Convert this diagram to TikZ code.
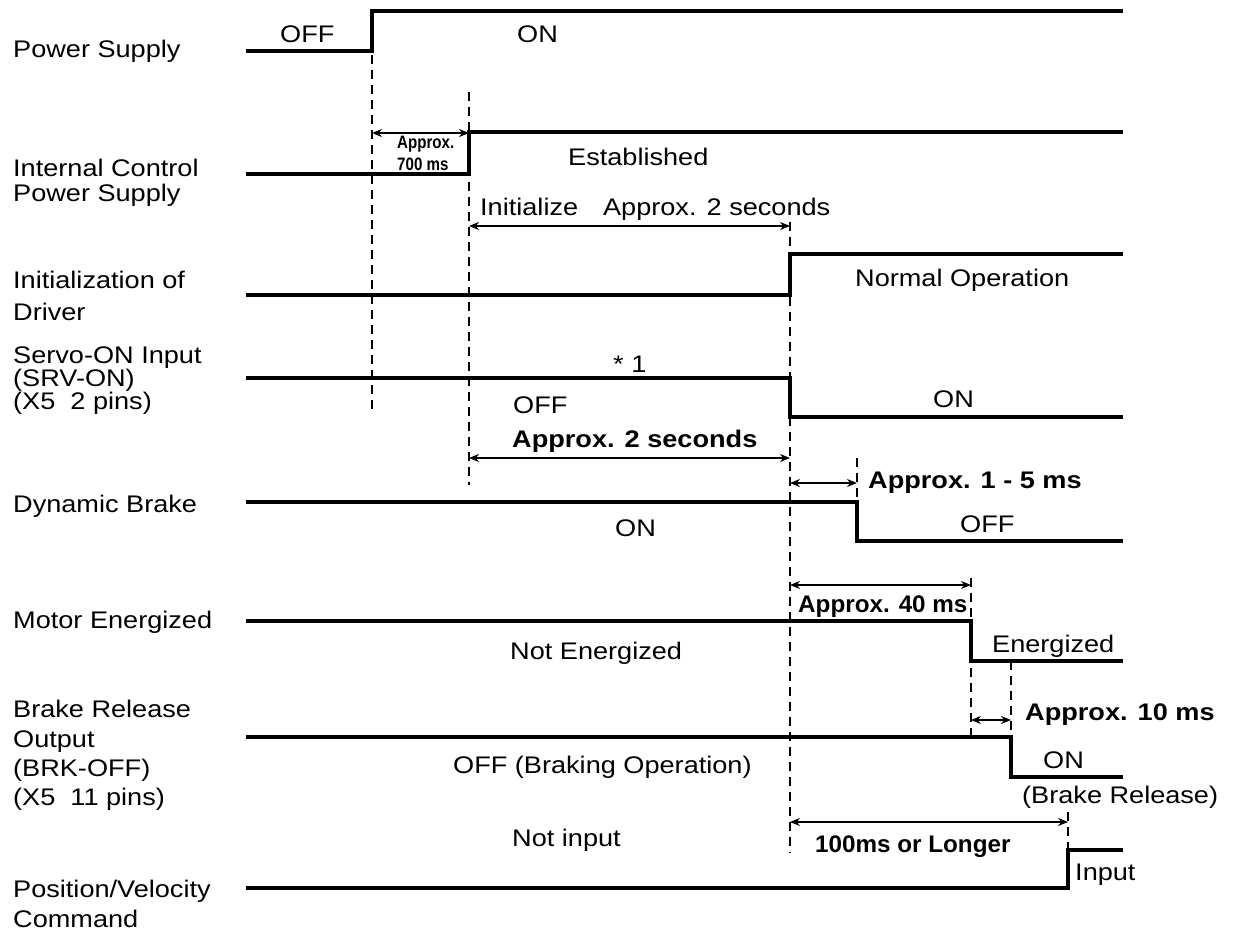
\documentclass[tikz,border=0pt]{standalone}
\usepackage{fontspec}
\setmainfont{Liberation Sans}[FakeStretch=1.13]
\newfontfamily\narrowfont{Liberation Sans}[FakeStretch=0.84]
\newfontfamily\condfont{Liberation Sans}[FakeStretch=1.01]
\usetikzlibrary{arrows.meta, positioning}

\begin{document}
\begin{tikzpicture}[
  x=1pt, y=-1pt,
  wave/.style={line width=3.6pt, line join=miter},
  guide/.style={line width=1.3pt, dash pattern=on 9pt off 6pt},
  span/.style={{Stealth[length=10pt,width=8pt]}-{Stealth[length=10pt,width=8pt]}, line width=1.3pt},
  txt/.style={anchor=base west, inner sep=0pt, font=\fontsize{24}{26}\selectfont},
  bold/.style={txt, font=\fontsize{24}{26}\selectfont\bfseries},
  cond/.style={txt, font=\condfont\fontsize{24}{26}\selectfont\bfseries},
  small/.style={txt, font=\narrowfont\fontsize{18}{19}\selectfont\bfseries}
]
\useasboundingbox (0,0) rectangle (1234,934);

% signal names
\node[txt] (nps)  at (13,58)  {Power Supply};
\node[txt] (nic1) at (13,176) {Internal Control};
\node[txt] (nic2) at (13,201) {Power Supply};
\node[txt] (ndr1) at (13,288) {Initialization of};
\node[txt] (ndr2) at (13,320) {Driver};
\node[txt] (nsv1) at (13,363) {Servo-ON Input};
\node[txt] (nsv2) at (13,386) {(SRV-ON)};
\node[txt] (nsv3) at (13,409) {(X5~~2 pins)};
\node[txt] (ndb)  at (13,512) {Dynamic Brake};
\node[txt] (nme)  at (13,628) {Motor Energized};
\node[txt] (nbr1) at (13,717) {Brake Release};
\node[txt] (nbr2) at (13,747) {Output};
\node[txt] (nbr3) at (13,776) {(BRK-OFF)};
\node[txt] (nbr4) at (13,805) {(X5~~11 pins)};
\node[txt] (npv1) at (13,897) {Position/Velocity};
\node[txt] (npv2) at (13,927) {Command};

% waveforms
\draw[wave] (246,51)  -- (372,51)  -- (372,11)  -- (1123,11);
\draw[wave] (246,174) -- (469,174) -- (469,132) -- (1123,132);
\draw[wave] (246,295) -- (790,295) -- (790,254) -- (1123,254);
\draw[wave] (246,378) -- (790,378) -- (790,417) -- (1123,417);
\draw[wave] (246,502) -- (857,502) -- (857,541) -- (1123,541);
\draw[wave] (246,621) -- (971,621) -- (971,661) -- (1123,661);
\draw[wave] (246,737) -- (1011,737) -- (1011,777) -- (1123,777);
\draw[wave] (246,888) -- (1068,888) -- (1068,850) -- (1123,850);

% timing guides
\draw[guide] (372,55)   -- (372,411);
\draw[guide] (469,92)   -- (469,485);
\draw[guide] (790,222)  -- (790,853);
\draw[guide] (857,458)  -- (857,500);
\draw[guide] (971,578)  -- (971,738);
\draw[guide] (1011,661) -- (1011,735);
\draw[guide] (1068,812) -- (1068,850);

% intervals
\draw[span] (372,133) -- (469,133);
\draw[span] (469,226) -- (790,226);
\draw[span] (469,458) -- (790,458);
\draw[span] (790,483) -- (857,483);
\draw[span] (790,585) -- (971,585);
\draw[span] (971,720) -- (1011,720);
\draw[span] (790,822) -- (1068,822);

% states
\node[txt] (psoff) at (280,43)  {OFF};
\node[txt] (pson)  at (517,43)  {ON};
\node[small] (d7a) at (397,148) {Approx.};
\node[small] (d7b) at (397,170) {700 ms};
\node[txt] (icon)  at (568,165) {Established};
\node[txt] (dinit) at (480,215) {Initialize\hspace{25pt}Approx. 2 seconds};
\node[txt] (drnrm) at (855,286) {Normal Operation};
\node[txt] (svn)   at (613,372) {* 1};
\node[txt] (svoff) at (513,413) {OFF};
\node[txt] (svon)  at (933,407) {ON};
\node[bold] (d2s)  at (512,447) {Approx. 2 seconds};
\node[bold] (d15)  at (868,488) {Approx. 1 - 5 ms};
\node[txt] (dbon)  at (615,536) {ON};
\node[txt] (dboff) at (960,532) {OFF};
\node[cond] (d40)  at (798,612) {Approx. 40 ms};
\node[txt] (meoff) at (510,659) {Not Energized};
\node[txt] (meon)  at (992,652) {Energized};
\node[bold] (d10)  at (1025,720) {Approx. 10 ms};
\node[txt] (broff) at (453,773) {OFF (Braking Operation)};
\node[txt] (bron)  at (1043,768) {ON};
\node[txt] (brrel) at (1022,803) {(Brake Release)};
\node[cond] (d100) at (815,852) {100ms or Longer};
\node[txt] (pvoff) at (512,846) {Not input};
\node[txt] (pvon)  at (1075,880) {Input};
\end{tikzpicture}
\end{document}
